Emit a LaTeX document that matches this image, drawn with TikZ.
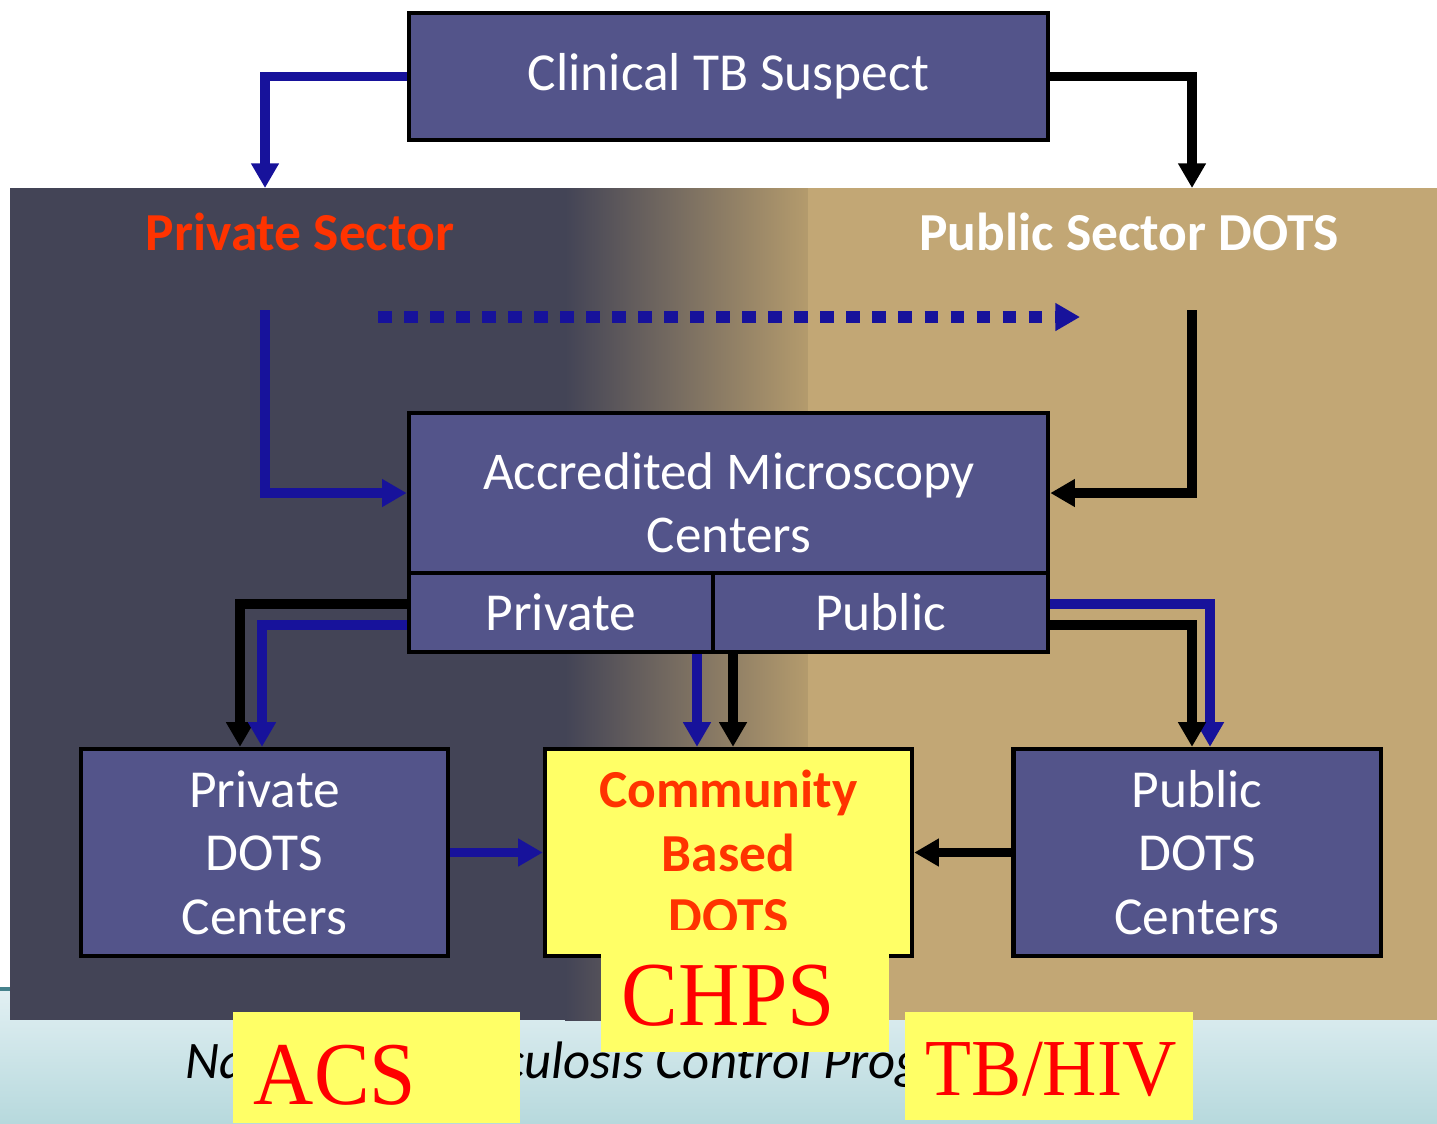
\documentclass[tikz,border=0pt]{standalone}
\usepackage{fontspec}
\setmainfont{Carlito}
\newfontfamily\tagfont[FakeStretch=0.93]{Liberation Serif}
\usetikzlibrary{arrows.meta}

\definecolor{boxblue}{RGB}{83,84,138}
\definecolor{arrblue}{RGB}{23,18,155}
\definecolor{paneldark}{RGB}{67,68,86}
\definecolor{paneltan}{RGB}{194,167,117}
\definecolor{sectorred}{RGB}{255,51,0}
\definecolor{tagyellow}{RGB}{255,255,102}
\definecolor{tagred}{RGB}{255,0,0}
\definecolor{bandtop}{RGB}{226,240,243}
\definecolor{bandbottom}{RGB}{183,217,221}
\definecolor{bandline}{RGB}{70,130,140}

\begin{document}
\begin{tikzpicture}[x=0.01cm, y=-0.01cm,
    box/.style={draw=black, line width=1.2pt, fill=boxblue, text=white,
      font=\fontsize{15.2}{18}\selectfont, align=center, inner sep=0pt},
    boxtext/.style={text=white, font=\fontsize{15.1}{18}\selectfont, align=center, inner sep=0pt},
    tagbox/.style={fill=tagyellow, text=tagred, inner xsep=0.21cm, inner ysep=0pt,
      align=left, text depth=0pt, font=\tagfont\fontsize{26}{30}\selectfont},
    sector/.style={font=\bfseries\fontsize{15.2}{18}\selectfont},
    bluearr/.style={draw=arrblue, line width=2.8pt,
      -{Triangle[width=7.5pt,length=7pt]}},
    blackarr/.style={bluearr, draw=black}]
    \def\boxw{3.67cm}
    \def\boxh{2.07cm}

    \useasboundingbox (0,0) rectangle (1437,1123);



    \shade[top color=bandtop, bottom color=bandbottom] (0,988) rectangle (1437,1123);

    \draw[bandline, line width=0.9pt] (0,989) -- (1437,989);

    \fill[paneldark] (10,188) rectangle (566,1020);

    \shade[left color=paneldark, right color=paneltan!93!black] (565,188) rectangle (809,1020);

    \fill[paneltan] (808,188) rectangle (1437,1020);



    \node at (185,1078) [anchor=base west, inner sep=0pt, font=\itshape\fontsize{15}{18}\selectfont]
    {National Tuberculosis Control Programme};



    \node[box, minimum width=6.39cm, minimum height=1.27cm] (suspect) at (728.5,76.5)
    {Clinical TB Suspect};

    \coordinate (privtop) at (265,188);

    \coordinate (pubtop) at (1192,188);

    \node[sector, text=sectorred] (private) at (300,232) {Private Sector};

    \node[sector, text=white] (public) at (1129,232) {Public Sector DOTS};

    \coordinate (privstart) at (265,310);

    \coordinate (pubstart) at (1192,310);

    \coordinate (dotstart) at (378,317);

    \coordinate (dotend) at (1080,317);



    \node[box, minimum width=6.39cm, minimum height=1.60cm] (accr) at (728.5,493) {};

    \node[boxtext] (accrtext) at (729,503) {Accredited Microscopy\\ Centers};

    \node[box, minimum width=3.04cm, minimum height=0.79cm] (privrow) at (561,612.5)
    {Private};

    \node[box, minimum width=3.35cm, minimum height=0.79cm] (pubrow) at (880.5,612.5)
    {Public};



    \node[box, minimum width=\boxw, minimum height=\boxh] (pdots) at (264.5,852.5)
    {Private\\ DOTS\\ Centers};

    \node[box, fill=tagyellow, text=sectorred, font=\bfseries\fontsize{15.2}{18}\selectfont,
      minimum width=\boxw, minimum height=\boxh] (comm) at (728.5,852.5)
    {Community\\ Based\\ DOTS};

    \node[box, minimum width=\boxw, minimum height=\boxh] (pubdots) at (1197,852.5)
    {Public\\ DOTS\\ Centers};



    \draw[bluearr] (suspect.west) -| (privtop);

    \draw[blackarr] (suspect.east) -| (pubtop);

    \draw[bluearr] (privstart) |- (accr.west);

    \draw[blackarr] (pubstart) |- (accr.east);

    \draw[bluearr, line width=3.3pt, dash pattern=on 3.9pt off 3.5pt] (dotstart) -- (dotend);



    \draw[blackarr] ([yshift=0.085cm]privrow.west) -| ([xshift=-0.245cm]pdots.north);

    \draw[bluearr] ([yshift=-0.125cm]privrow.west) -| ([xshift=-0.025cm]pdots.north);

    \draw[bluearr] ([yshift=0.085cm]pubrow.east) -| ([xshift=0.13cm]pubdots.north);

    \draw[blackarr] ([yshift=-0.125cm]pubrow.east) -| ([xshift=-0.05cm]pubdots.north);

    \draw[bluearr] ([xshift=-0.315cm]comm.north |- privrow.south) -- ([xshift=-0.315cm]comm.north);

    \draw[blackarr] ([xshift=0.045cm]comm.north |- pubrow.south) -- ([xshift=0.045cm]comm.north);

    \draw[bluearr] (pdots.east) -- (comm.west);

    \draw[blackarr] (pubdots.west) -- (comm.east);



    \node[tagbox, text width=2.46cm, text height=19.5pt, minimum height=1.22cm] (chps) at (745,991)
    {CHPS};

    \node[tagbox, text width=2.45cm, text height=21.2pt, minimum height=1.11cm,
      font=\tagfont\fontsize{25.5}{30}\selectfont] (acs) at (376.5,1067.5) {ACS};

    \node[tagbox, text width=2.46cm, text height=16.9pt, minimum height=1.08cm,
      font=\tagfont\fontsize{23}{28}\selectfont] (tbhiv) at (1049,1066) {TB/HIV};
  \end{tikzpicture}
\end{document}
